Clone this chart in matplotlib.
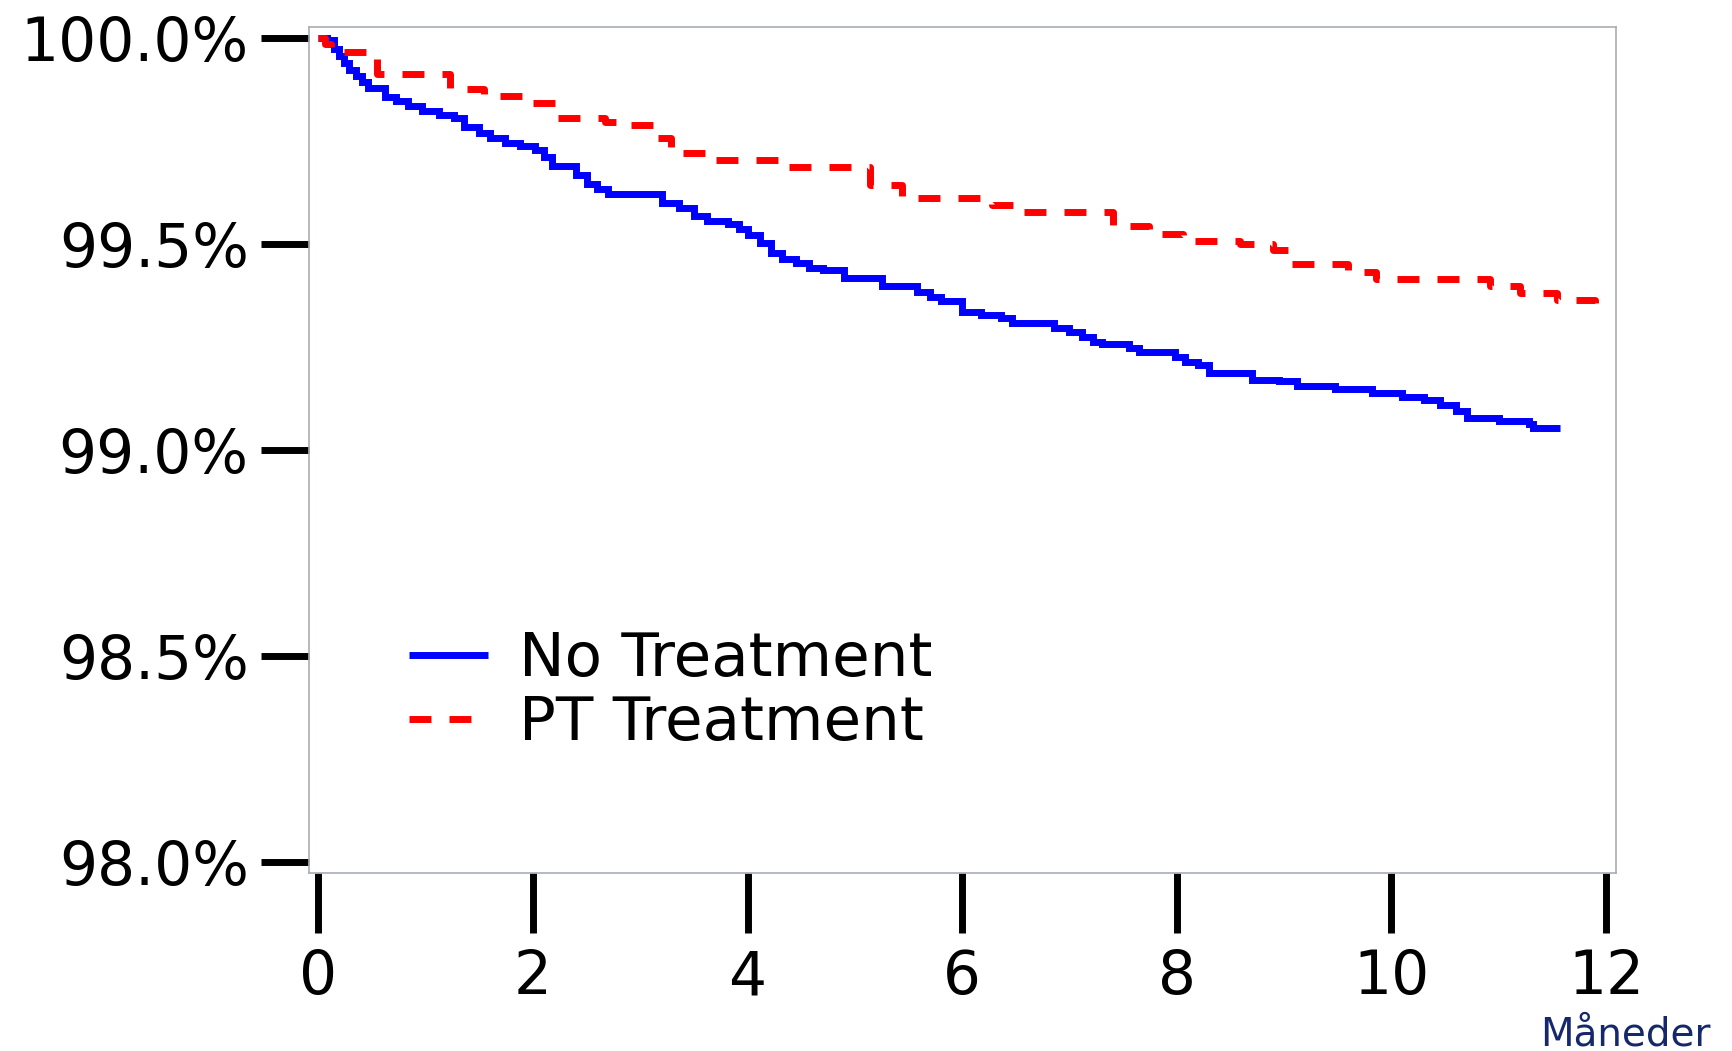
import matplotlib
matplotlib.use("Agg")
import matplotlib.pyplot as plt
from matplotlib.ticker import FuncFormatter

plt.rcParams['font.family'] = ['DejaVu Sans']
plt.rcParams['lines.scale_dashes'] = False

# Kaplan-Meier style curves, months vs. survival (%)
no_treat_t = [0, 0.08, 0.15, 0.19, 0.24, 0.29, 0.35, 0.41, 0.46, 0.62, 0.72, 0.84, 0.97,
              1.12, 1.26, 1.36, 1.50, 1.60, 1.74, 1.88, 2.02, 2.10, 2.18, 2.40, 2.50,
              2.60, 2.70, 3.20, 3.36, 3.50, 3.62, 3.82, 3.92, 4.00, 4.12, 4.22, 4.32,
              4.45, 4.57, 4.70, 4.90, 5.25, 5.58, 5.70, 5.80, 6.00, 6.18, 6.36, 6.46,
              6.86, 7.00, 7.12, 7.22, 7.30, 7.55, 7.65, 7.98, 8.08, 8.20, 8.30, 8.70,
              8.95, 9.12, 9.47, 9.82, 10.10, 10.30, 10.45, 10.60, 10.70, 11.00, 11.28,
              11.32, 11.57]
no_treat_s = [100.0, 99.993, 99.972, 99.955, 99.938, 99.922, 99.908, 99.892, 99.878, 99.856,
              99.846, 99.834, 99.822, 99.813, 99.804, 99.782, 99.768, 99.756, 99.745,
              99.736, 99.727, 99.710, 99.688, 99.666, 99.645, 99.632, 99.621, 99.600,
              99.587, 99.568, 99.555, 99.548, 99.536, 99.521, 99.502, 99.478, 99.463,
              99.453, 99.441, 99.437, 99.416, 99.398, 99.382, 99.370, 99.360, 99.334,
              99.327, 99.320, 99.307, 99.296, 99.287, 99.273, 99.262, 99.256, 99.247,
              99.238, 99.226, 99.214, 99.207, 99.186, 99.170, 99.166, 99.155, 99.147,
              99.137, 99.129, 99.121, 99.108, 99.094, 99.077, 99.071, 99.062, 99.052,
              99.052]

pt_t = [0, 0.06, 0.12, 0.55, 1.23, 1.54, 2.00, 2.22, 2.67, 2.86, 3.13, 3.29, 3.67, 4.29,
        5.14, 5.44, 6.28, 6.54, 7.41, 7.74, 8.06, 8.59, 8.90, 9.04, 9.60, 9.86, 10.92,
        11.20, 11.54, 11.90, 12.0]
pt_s = [100.0, 99.985, 99.966, 99.911, 99.876, 99.859, 99.841, 99.806, 99.796, 99.788,
        99.756, 99.721, 99.703, 99.685, 99.643, 99.610, 99.593, 99.576, 99.542, 99.524,
        99.507, 99.500, 99.484, 99.450, 99.432, 99.415, 99.398, 99.380, 99.364, 99.348,
        99.348]

x_ticks = [0, 2, 4, 6, 8, 10, 12]
y_ticks = [98.0, 98.5, 99.0, 99.5, 100.0]

W, H = 1732, 1051
fig = plt.figure(figsize=(W / 100, H / 100), dpi=100)
ax = fig.add_axes([309.3 / W, 1 - 873.3 / H, (1615.7 - 309.3) / W, (873.3 - 27.3) / H])

ax.step(no_treat_t, no_treat_s, where='post', color='#0000FF', lw=5,
        solid_joinstyle='miter', solid_capstyle='butt', label='No Treatment')
ax.step(pt_t, pt_s, where='post', color='#FF0000', lw=5,
        dashes=(15.8, 13.0), dash_capstyle='butt', label='PT Treatment')

ax.set_xlim(-0.084, 12.09)
ax.set_ylim(97.973, 100.025)
ax.set_xticks(x_ticks)
ax.set_yticks(y_ticks)
ax.yaxis.set_major_formatter(FuncFormatter(lambda v, p: f'{v:.1f}%'))

for s in ax.spines.values():
    s.set_color('#A9AEB4')
    s.set_linewidth(1.2)

ax.tick_params(axis='y', direction='out', length=34.6, width=5, color='black',
               labelsize=43, pad=9)
ax.tick_params(axis='x', direction='out', length=43, width=5, color='black',
               labelsize=43, pad=11)

ax.legend(loc='upper left', bbox_to_anchor=(409 / W, 1 - 630 / H),
          bbox_transform=fig.transFigure, frameon=False, fontsize=44,
          handlelength=1.3, handletextpad=0.5, labelspacing=0.08,
          borderpad=0, borderaxespad=0)

fig.text(1711 / W, 1 - 1034 / H, 'Måneder', ha='right', va='center',
         fontsize=28, color='#14286B')

fig.savefig('out.png', dpi=100)
